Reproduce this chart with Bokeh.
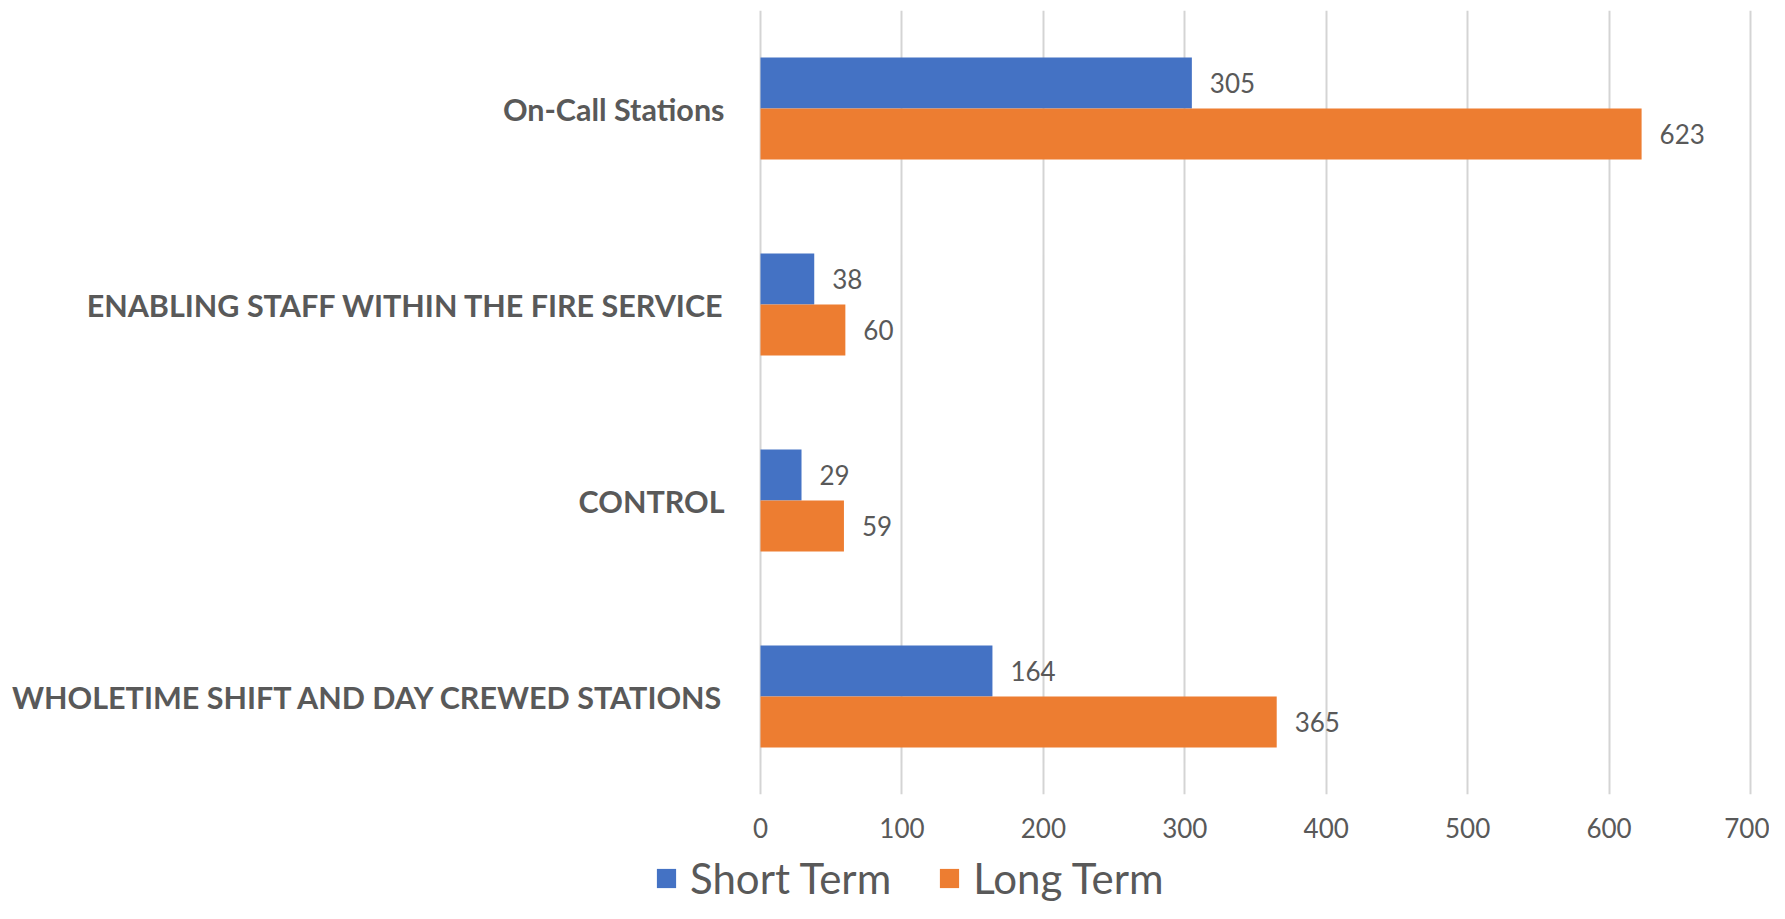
from bokeh.plotting import figure
from bokeh.layouts import column
from bokeh.models import (ColumnDataSource, FactorRange, Range1d, FixedTicker,
                          LabelSet, Legend, LegendItem)
from bokeh.core.properties import value
from bokeh.transform import dodge
from bokeh.embed import file_html
from bokeh.resources import INLINE

categories = ["On-Call Stations",
              "ENABLING STAFF WITHIN THE FIRE SERVICE",
              "CONTROL",
              "WHOLETIME SHIFT AND DAY CREWED STATIONS"]
short_term = [305, 38, 29, 164]
long_term = [623, 60, 59, 365]
series_names = ["Short Term", "Long Term"]
x_ticks = [0, 100, 200, 300, 400, 500, 600, 700]

BLUE = "#4472C4"
ORANGE = "#ED7D31"
GREY = "#595959"
FONT = "Lato"

W = 1769
PLOT_LEFT, PLOT_RIGHT = 760, 1750          # pixel position of 0 and 700
px_per_unit = (PLOT_RIGHT - PLOT_LEFT) / 700.0

src = ColumnDataSource(dict(
    cat=categories,
    short=short_term,
    long=long_term,
    zero=[0] * len(categories),
    short_lbl=[str(v) for v in short_term],
    long_lbl=[str(v) for v in long_term],
))

p = figure(width=W, height=852,
           y_range=FactorRange(factors=list(reversed(categories))),
           x_range=Range1d(-PLOT_LEFT / px_per_unit, 700 + (W - PLOT_RIGHT) / px_per_unit),
           output_backend="svg", toolbar_location=None, y_axis_location=None,
           min_border_left=0, min_border_right=0,
           min_border_top=10, min_border_bottom=58)

r_short = p.hbar(y=dodge("cat", 0.13, range=p.y_range), right="short", left=0,
                 height=0.26, source=src, color=BLUE, line_color=None)
r_long = p.hbar(y=dodge("cat", -0.13, range=p.y_range), right="long", left=0,
                height=0.26, source=src, color=ORANGE, line_color=None)

for fld, off in (("short", 0.13), ("long", -0.13)):
    p.add_layout(LabelSet(x=fld, y=dodge("cat", off, range=p.y_range),
                          text=fld + "_lbl", source=src, x_offset=18,
                          text_baseline="middle", text_align="left",
                          text_font=value(FONT), text_font_size="26px",
                          text_color=GREY))

# category labels, right-aligned left of the value axis origin
p.add_layout(LabelSet(x="zero", y="cat", text="cat", source=src, x_offset=-36,
                      text_baseline="middle", text_align="right",
                      text_font=value(FONT), text_font_style="bold",
                      text_font_size="30.5px", text_color=GREY))

p.outline_line_color = None
p.ygrid.grid_line_color = None
p.xgrid.grid_line_color = "#D4D4D4"
p.xgrid.grid_line_width = 2

p.xaxis.ticker = FixedTicker(ticks=x_ticks)
p.xaxis.axis_line_color = None
p.xaxis.major_tick_line_color = None
p.xaxis.minor_tick_line_color = None
p.xaxis.major_tick_out = 0
p.xaxis.major_label_text_font = FONT
p.xaxis.major_label_text_font_size = "26px"
p.xaxis.major_label_text_color = GREY
p.xaxis.major_label_standoff = 23

# legend strip below the chart
lg = figure(width=W, height=51, x_range=Range1d(0, 1), y_range=Range1d(0, 1),
            output_backend="svg", toolbar_location=None,
            x_axis_location=None, y_axis_location=None,
            min_border_left=0, min_border_right=0,
            min_border_top=0, min_border_bottom=0)
lg.outline_line_color = None
lg.grid.visible = False
# off-screen stand-ins so the legend swatches have a glyph to draw
l_short = lg.hbar(y=[-1], right=[0], left=[0], height=0.5, color=BLUE, line_color=None)
l_long = lg.hbar(y=[-1], right=[0], left=[0], height=0.5, color=ORANGE, line_color=None)

legend = Legend(items=[LegendItem(label=series_names[0], renderers=[l_short]),
                       LegendItem(label=series_names[1], renderers=[l_long])],
                orientation="horizontal", location=(654, 0),
                glyph_width=24, glyph_height=24, label_standoff=12, spacing=46,
                padding=0, margin=0, border_line_color=None,
                background_fill_alpha=0,
                label_text_font=FONT, label_text_font_size="42px",
                label_text_color=GREY)
lg.add_layout(legend, "center")

layout = column(p, lg, spacing=0)
open("out.html", "w").write(file_html(layout, INLINE))
